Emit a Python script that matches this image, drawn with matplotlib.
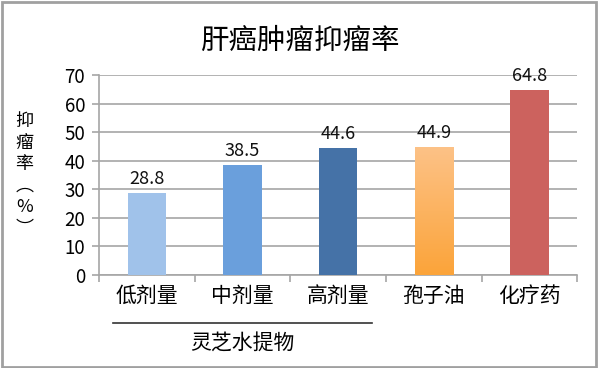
import numpy as np
import matplotlib
matplotlib.use("Agg")
import matplotlib.pyplot as plt
from matplotlib.patches import Rectangle
from matplotlib.colors import LinearSegmentedColormap

plt.rcParams['font.family'] = ['Noto Sans CJK SC', 'DejaVu Sans']

categories = ['低剂量', '中剂量', '高剂量', '孢子油', '化疗药']
values = [28.8, 38.5, 44.6, 44.9, 64.8]
colors = ['#A0C2EA', '#6A9FDC', '#4572A7', '#FCB060', '#CC625E']
group_label = '灵芝水提物'
title = '肝癌肿瘤抑瘤率'
yticks = [0, 10, 20, 30, 40, 50, 60, 70]

fig = plt.figure(figsize=(6.0, 3.68), dpi=100)
ax = fig.add_axes([0.165, 0.253, 0.797, 0.543])

x = np.arange(len(categories))
bars = ax.bar(x, values, width=0.4, color=colors, zorder=3)

# orange bar gets a vertical gradient, light at top
grad = LinearSegmentedColormap.from_list('og', ['#FBA43A', '#FDC287'])
b = bars[3]
bx, bw, bh = b.get_x(), b.get_width(), b.get_height()
b.set_facecolor('none')
img = ax.imshow(np.linspace(0, 1, 100).reshape(-1, 1), cmap=grad, origin='lower',
                extent=[bx, bx + bw, 0, bh], aspect='auto', zorder=3)
img.set_clip_path(b)

for xi, v in zip(x, values):
    ax.text(xi, v + 1.6, f'{v}', ha='center', va='bottom', fontsize=13, color='#111111')

ax.set_xlim(-0.5, len(categories) - 0.5)
ax.set_ylim(0, 70)
ax.set_yticks(yticks)
ax.set_yticklabels([str(t) for t in yticks], fontsize=13.5)
ax.yaxis.grid(True, color='#A6A6A6', linewidth=1.2, zorder=0)
ax.set_axisbelow(True)

# category labels plus boundary tick marks
ax.set_xticks(x)
ax.set_xticklabels(categories, fontsize=15)
ax.tick_params(axis='x', length=0, pad=7)
ax.set_xticks(np.arange(-0.5, len(categories)), minor=True)
ax.tick_params(axis='x', which='minor', length=5, color='#A6A6A6', width=1.2)
ax.tick_params(axis='y', length=5, color='#A6A6A6', width=1.2, pad=5)

for s in ['top', 'right']:
    ax.spines[s].set_visible(False)
for s in ['left', 'bottom']:
    ax.spines[s].set_color('#A6A6A6')
    ax.spines[s].set_linewidth(1.2)

# group bracket under first three categories
trans = ax.get_xaxis_transform()
ax.plot([-0.35, 2.35], [-0.24, -0.24], transform=trans, color='#333333',
        linewidth=1.2, clip_on=False)
ax.text(1, -0.345, group_label, transform=trans, ha='center', va='center', fontsize=15)

fig.text(0.5, 0.89, title, ha='center', va='center', fontsize=20.5)
fig.text(0.041, 0.525, '抑\n瘤\n率\n︵\n%\n︶', ha='center', va='center',
         fontsize=13, linespacing=1.25)

fig.patches.append(Rectangle((0.003, 0.004), 0.991, 0.99, transform=fig.transFigure,
                             fill=False, edgecolor='#A0A0A0', linewidth=2))

fig.savefig('out.png', dpi=100)
